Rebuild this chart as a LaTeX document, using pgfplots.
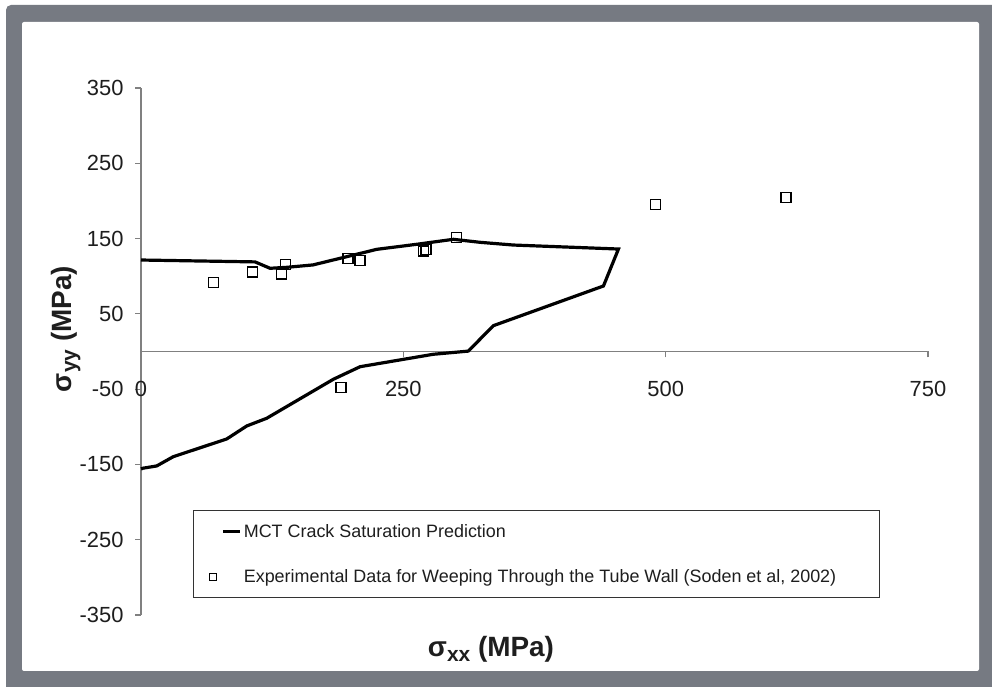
\documentclass[border=0pt]{standalone}
\usepackage{fontspec}
\setmainfont{Liberation Sans}
\usepackage{pgfplots}
\pgfplotsset{compat=1.18}
\definecolor{framegray}{RGB}{118,122,130}
\definecolor{axisgray}{RGB}{128,128,128}
\definecolor{labeltext}{RGB}{30,30,30}
\begin{document}
\begin{tikzpicture}[x=1bp,y=1bp]
\fill[white] (0,0) rectangle (992,687);
\fill[framegray, rounded corners=5bp] (6,-10) rectangle (1002,682);
\fill[white, rounded corners=2bp] (22,16) rectangle (979,665);
\begin{axis}[
  at={(141bp,72bp)}, anchor=south west,
  scale only axis, width=787bp, height=527bp,
  xmin=0, xmax=750, ymin=-350, ymax=350,
  axis x line=middle, axis y line=left,
  hide obscured x ticks=false,
  axis line style={-, draw=axisgray, line width=1.2bp},
  xtick={0,250,500,750}, ytick={-350,-250,...,350},
  tick align=outside, major tick length=6bp,
  every tick/.style={axisgray, line width=1.2bp},
  /pgf/number format/assume math mode=true,
  ticklabel style={font=\fontsize{22}{26}\selectfont, text=labeltext},
  xticklabel style={yshift=-20bp},
  yticklabel style={xshift=-8bp},
  xlabel={\textbf{σ\raisebox{-5bp}{\fontsize{21}{21}\selectfont xx} (MPa)}},
  ylabel={\textbf{σ\raisebox{-5bp}{\fontsize{21}{21}\selectfont yy} (MPa)}},
  label style={font=\fontsize{28}{32}\selectfont, text=labeltext},
  xlabel style={at={(axis description cs:0.4447,-0.0797)}, anchor=base},
  ylabel style={at={(axis description cs:-0.0889,0.5427)}, anchor=base},
  legend style={at={(axis description cs:0.0661,0.1992)}, anchor=north west,
    draw=black!80, line width=1.2bp, fill=white,
    inner xsep=15.5bp, inner ysep=11.5bp, row sep=27bp,
    font=\fontsize{18}{21}\selectfont, text=labeltext},
  legend cell align=left,
  clip=false,
]
\addplot[black, line width=3.2bp, mark=none] coordinates {
(0,121.5) (108.7,119) (123,110.5) (139,111.8) (164,115) (183,121.5)
(211.6,131.2) (224.7,135.7) (262.8,142.4) (297.7,149) (323.2,145)
(354.9,141.4) (455,136.1) (440.7,87) (335.8,34.3) (311.9,0.5)
(278.5,-3.7) (208.8,-20.2) (183.3,-36.9) (119.8,-88.7) (100.8,-98.9)
(81.7,-116.2) (30.8,-139.7) (15,-152) (2,-155) (0,-156)
};
\addlegendentry{\makebox[618bp][l]{MCT Crack Saturation Prediction}}
\addplot[only marks, mark=square, mark size=5bp, mark options={black, line width=1.3bp},
  legend image code/.code={\draw[black, line width=1.2bp] (-13.5bp,-3.5bp) rectangle (-6.5bp,3.5bp);}]
coordinates {
(68.9,91.4) (106.1,105.6) (134.1,102.9) (137.9,115.5) (197.2,123.2)
(208.8,121.1) (269.1,133.4) (271.7,135.6) (300.4,151.3) (490.6,195.0)
(614.6,204.2) (190.7,-47.4)
};
\addlegendentry{\makebox[618bp][l]{Experimental Data for Weeping Through the Tube Wall (Soden et al, 2002)}}
\end{axis}
\pgfresetboundingbox
\path[use as bounding box] (0,0) rectangle (992,687);
\end{tikzpicture}
\end{document}
